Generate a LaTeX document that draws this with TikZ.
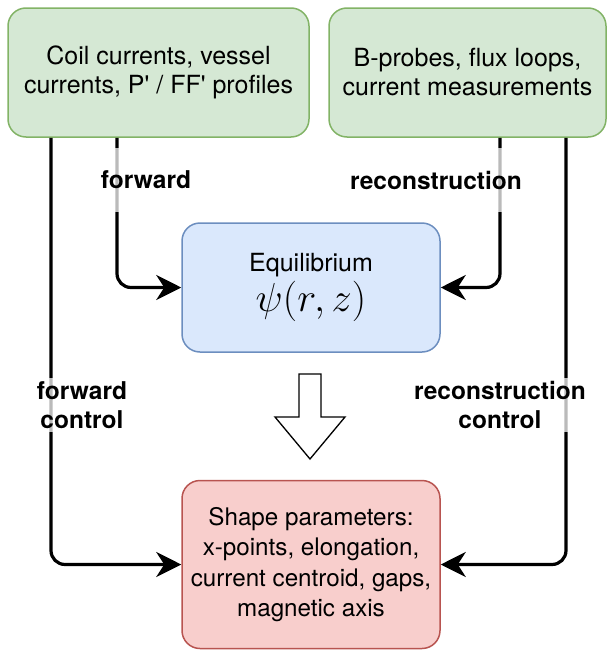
\documentclass[tikz,border=0pt]{standalone}
\usepackage{graphicx}
\usepackage[no-math]{fontspec}
\setmainfont{TeX Gyre Heros}
\usetikzlibrary{arrows.meta}
\definecolor{gfill}{HTML}{D5E8D4}
\definecolor{gdraw}{HTML}{82B366}
\definecolor{bfill}{HTML}{DAE8FC}
\definecolor{bdraw}{HTML}{6C8EBF}
\definecolor{rfill}{HTML}{F8CECC}
\definecolor{rdraw}{HTML}{B85450}
\tikzset{
  box/.style={draw, rounded corners=18pt, line width=1.5pt, align=center, inner sep=0pt,
    font=\fontsize{25}{29}\selectfont},
  gbox/.style={box, fill=gfill, draw=gdraw},
  bbox/.style={box, fill=bfill, draw=bdraw},
  rbox/.style={box, fill=rfill, draw=rdraw, font=\fontsize{24.2}{30.5}\selectfont},
  conn/.style={line width=3.2pt, rounded corners=14pt, -{Stealth[length=25pt,width=25pt,inset=8pt]}},
  lbl/.style={fill=white, fill opacity=0.73, text opacity=1, align=center, inner xsep=1pt,
    font=\bfseries\fontsize{24.5}{29}\selectfont},
  hollow/.style={draw, line width=1.3pt, fill=white, line join=miter},
}
\begin{document}
\begin{tikzpicture}[x=1pt,y=-1pt]
\useasboundingbox (0,0) rectangle (608,653);
\node[gbox, minimum width=301pt, minimum height=129pt] (in1) at (158.5,72.5)
  {\rule{0pt}{6pt}Coil currents, vessel\\currents, P\textquotesingle{} / FF\textquotesingle{} profiles};
\node[gbox, minimum width=277pt, minimum height=129pt] (in2) at (467.5,72.5)
  {\rule{0pt}{6pt}B-probes, flux loops,\\current measurements};
\node[bbox, minimum width=258pt, minimum height=129pt] (eq) at (311,287.5)
  {Equilibrium\\[3pt]{\fontsize{20.74}{24}\selectfont\scalebox{1.95}{$\psi(r,z)$}}};
\node[rbox, minimum width=258pt, minimum height=168pt] (shp) at (311,564.5)
  {Shape parameters:\\x-points, elongation,\\current centroid, gaps,\\magnetic axis};
\coordinate (fx) at (117,0);
\coordinate (fcx) at (51,0);
\coordinate (rx) at (500,0);
\coordinate (rcx) at (566,0);
\draw[conn] (in1.south -| fx) |- (eq.west);
\draw[conn] (in1.south -| fcx) |- (shp.west);
\draw[conn] (in2.south -| rx) |- (eq.east);
\draw[conn] (in2.south -| rcx) |- (shp.east);
\node[lbl, minimum height=64pt] (lf) at (146,180) {forward};
\node[lbl, minimum height=64pt] (lr) at (436,180) {reconstruction};
\node[lbl] (lfc) at (82,405) {forward\\control};
\node[lbl] (lrc) at (500,405) {reconstruction\\control};
\draw[hollow] (299,374) -- (321,374) -- (321,417) -- (345,417) -- (310,459)
  -- (275,417) -- (299,417) -- cycle;
\end{tikzpicture}
\end{document}
